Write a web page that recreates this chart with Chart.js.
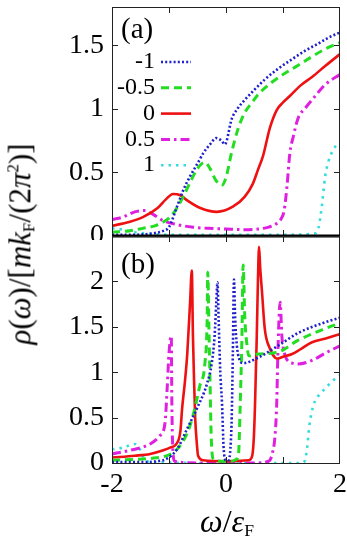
<!DOCTYPE html>
<html>
<head>
<meta charset="utf-8">
<script src="https://cdn.jsdelivr.net/npm/chart.js@4.4.0/dist/chart.umd.min.js"></script>
<style>
	body { margin: 0; background: #fff; width: 347px; height: 536px; overflow: hidden; position: relative; font-family: "Liberation Serif", serif; }
	#boxA { position: absolute; left: 0; top: 0; width: 347px; height: 240px; }
	#boxB { position: absolute; left: 0; top: 229px; width: 347px; height: 307px; }
	.ytitle { position: absolute; left: 21px; top: 244px; transform: translate(-50%, -50%) rotate(-90deg); white-space: nowrap; font-size: 31px; }
	.xtitle { position: absolute; left: 227px; top: 522px; transform: translate(-50%, -50%); white-space: nowrap; font-size: 32px; }
	sub, sup { font-size: 55%; }
	sub { vertical-align: -0.25em; }
	sup { vertical-align: 0.7em; }
</style>
</head>
<body>
<div id="boxA"><canvas id="panelA"></canvas></div>
<div id="boxB"><canvas id="panelB"></canvas></div>
<div class="ytitle"><i>ρ</i>(<i>ω</i>)/[<i>mk</i><sub>F</sub>/(2<i>π</i><sup>2</sup>)]</div>
<div class="xtitle"><i>ω</i>/<i>ε</i><sub>F</sub></div>
<script>
// legend labels (the parameter of each curve)
const seriesLabels = ["-1", "-0.5", "0", "0.5", "1"];
const xTickLabels = [-2, 0, 2];
const xTickMarks = [-1, 0, 1];

// panel (a)
const aBlueX = [-2, -1.6, -1.3, -1.1, -1.0, -0.86, -0.75, -0.63, -0.5, -0.4, -0.28, -0.17, -0.08, -0.02, 0.1, 0.2, 0.33, 0.5, 0.68, 0.9, 1.16, 1.4, 1.61, 1.8, 2];
const aBlueY = [0.01, 0.01, 0.02, 0.04, 0.07, 0.23, 0.36, 0.47, 0.57, 0.65, 0.72, 0.77, 0.75, 0.72, 0.92, 1.0, 1.07, 1.15, 1.23, 1.31, 1.39, 1.46, 1.51, 1.56, 1.6];
const aGreenX = [-2, -1.7, -1.46, -1.25, -1.1, -0.98, -0.89, -0.75, -0.63, -0.5, -0.37, -0.28, -0.18, -0.07, 0.0, 0.1, 0.21, 0.33, 0.46, 0.56, 0.81, 1.26, 1.74, 2];
const aGreenY = [0.03, 0.04, 0.06, 0.08, 0.11, 0.15, 0.2, 0.31, 0.42, 0.53, 0.58, 0.53, 0.44, 0.4, 0.46, 0.66, 0.84, 0.97, 1.05, 1.11, 1.21, 1.34, 1.47, 1.52];
const aRedX = [-2, -1.7, -1.45, -1.2, -1.05, -0.93, -0.8, -0.68, -0.45, -0.16, 0.12, 0.33, 0.47, 0.56, 0.65, 0.77, 0.89, 1.0, 1.12, 1.3, 1.51, 1.75, 2];
const aRedY = [0.08, 0.11, 0.15, 0.22, 0.29, 0.33, 0.32, 0.28, 0.22, 0.19, 0.23, 0.31, 0.41, 0.52, 0.63, 0.85, 0.99, 1.05, 1.1, 1.18, 1.25, 1.34, 1.43];
const aMagentaX = [-2, -1.8, -1.6, -1.42, -1.28, -1.1, -0.86, -0.6, -0.3, 0.0, 0.3, 0.56, 0.75, 0.86, 0.96, 1.02, 1.07, 1.12, 1.18, 1.26, 1.4, 1.51, 1.74, 2];
const aMagentaY = [0.13, 0.15, 0.19, 0.2, 0.17, 0.12, 0.09, 0.07, 0.06, 0.055, 0.05, 0.055, 0.07, 0.09, 0.13, 0.2, 0.39, 0.65, 0.78, 0.92, 1.01, 1.07, 1.19, 1.27];
const aCyanX = [-2, -1.8, -1.6, -1.4, -1.0, 0.0, 1.0, 1.55, 1.62, 1.68, 1.74, 1.8, 1.86, 1.93, 2];
const aCyanY = [0.06, 0.05, 0.03, 0.02, 0.01, 0.01, 0.01, 0.02, 0.06, 0.23, 0.47, 0.59, 0.66, 0.71, 0.74];

// panel (b)
const bBlueX = [-2, -1.5, -1.2, -1.03, -0.86, -0.68, -0.51, -0.33, -0.25, -0.2, -0.17, -0.15, -0.13, -0.1, -0.07, -0.04, 0.0, 0.04, 0.07, 0.1, 0.12, 0.14, 0.16, 0.19, 0.23, 0.3, 0.56, 0.91, 1.26, 1.74, 2];
const bBlueY = [0.01, 0.01, 0.02, 0.05, 0.15, 0.38, 0.6, 0.88, 1.1, 1.4, 1.77, 1.99, 1.6, 1.0, 0.66, 0.15, 0.03, 0.03, 0.1, 0.5, 1.2, 2.02, 1.6, 1.3, 1.15, 1.1, 1.16, 1.29, 1.43, 1.55, 1.6];
const bGreenX = [-2, -1.6, -1.33, -1.0, -0.86, -0.68, -0.58, -0.46, -0.37, -0.33, -0.32, -0.3, -0.28, -0.26, -0.22, -0.1, 0.0, 0.1, 0.18, 0.22, 0.25, 0.28, 0.3, 0.33, 0.37, 0.4, 0.56, 0.91, 1.26, 1.74, 2];
const bGreenY = [0.03, 0.04, 0.05, 0.09, 0.15, 0.33, 0.52, 0.85, 1.1, 1.6, 2.1, 1.5, 0.9, 0.3, 0.04, 0.02, 0.02, 0.02, 0.04, 0.1, 0.66, 1.4, 2.18, 1.6, 1.29, 1.18, 1.2, 1.22, 1.35, 1.48, 1.54];
const bRedX = [-2, -1.6, -1.33, -1.1, -0.98, -0.86, -0.8, -0.77, -0.72, -0.68, -0.63, -0.6, -0.58, -0.56, -0.54, -0.51, -0.49, -0.4, 0.0, 0.4, 0.46, 0.49, 0.51, 0.54, 0.56, 0.58, 0.6, 0.63, 0.68, 0.77, 0.86, 0.91, 1.0, 1.16, 1.3, 1.51, 1.75, 2];
const bRedY = [0.06, 0.08, 0.1, 0.14, 0.17, 0.22, 0.35, 0.6, 0.9, 1.2, 1.77, 2.12, 1.4, 0.9, 0.49, 0.2, 0.08, 0.03, 0.02, 0.03, 0.08, 0.3, 0.66, 1.4, 2.0, 2.38, 2.15, 1.9, 1.48, 1.26, 1.16, 1.15, 1.17, 1.2, 1.25, 1.33, 1.37, 1.42];
const bMagentaX = [-2, -1.68, -1.33, -1.16, -1.07, -1.03, -1.0, -0.96, -0.95, -0.93, -0.9, -0.5, 0.0, 0.5, 0.75, 0.81, 0.86, 0.89, 0.91, 0.95, 0.98, 1.04, 1.16, 1.26, 1.51, 1.74, 2];
const bMagentaY = [0.1, 0.14, 0.21, 0.3, 0.44, 0.85, 1.21, 1.4, 0.66, 0.11, 0.02, 0.0, 0.0, 0.0, 0.02, 0.1, 0.3, 0.66, 1.21, 1.77, 1.4, 1.18, 1.1, 1.09, 1.13, 1.21, 1.29];
const bCyanX = [-2, -1.8, -1.6, -1.51, -1.42, -1.3, 0.0, 1.2, 1.3, 1.38, 1.42, 1.46, 1.5, 1.56, 1.65, 1.8, 1.9, 2];
const bCyanY = [0.15, 0.17, 0.21, 0.15, 0.03, 0.01, 0.0, 0.0, 0.0, 0.02, 0.15, 0.4, 0.55, 0.68, 0.76, 0.86, 0.92, 0.97];

const styles = [
	{ color: "#1f1fcc", dash: [2, 2.2], width: 2.6 },
	{ color: "#22dd22", dash: [8, 5], width: 3 },
	{ color: "#ee1111", dash: [], width: 2.6 },
	{ color: "#e020e0", dash: [9, 4, 2.5, 4], width: 3 },
	{ color: "#33dddd", dash: [2.5, 5], width: 2.6 },
];

const serif = '"Liberation Serif", serif';

function points(xs, ys) {
	return xs.map((x, i) => ({ x: x, y: ys[i] }));
}

function makeDatasets(list) {
	return list.map((pair, i) => ({
		label: seriesLabels[i],
		data: points(pair[0], pair[1]),
		borderColor: styles[i].color,
		borderDash: styles[i].dash,
		borderWidth: styles[i].width,
		pointRadius: 0,
		fill: false,
		cubicInterpolationMode: "monotone",
	}));
}

//frame with inward ticks, panel tag and (optionally) legend
function framePlugin(tag, tagY, withLegend, thickBottom) {
	return {
		id: "frame" + tag,
		afterDraw: (chart) => {
			const c = chart.ctx;
			const a = chart.chartArea;
			const xs = chart.scales.x;
			const ys = chart.scales.y;
			c.save();
			c.setLineDash([]);
			c.strokeStyle = "#222";
			c.lineWidth = 1;
			c.strokeRect(a.left + 0.5, a.top + 0.5, a.right - a.left - 1, a.bottom - a.top);
			c.beginPath();
			xTickMarks.forEach((v) => {
				const px = Math.round(xs.getPixelForValue(v)) + 0.5;
				c.moveTo(px, a.top);
				c.lineTo(px, a.top + 6);
				c.moveTo(px, a.bottom);
				c.lineTo(px, a.bottom - 6);
			});
			ys.ticks.forEach((t) => {
				const py = Math.round(ys.getPixelForValue(t.value)) + 0.5;
				c.moveTo(a.left, py);
				c.lineTo(a.left + 6, py);
				c.moveTo(a.right, py);
				c.lineTo(a.right - 6, py);
			});
			c.stroke();
			if (thickBottom) {
				c.lineWidth = 3;
				c.strokeStyle = "#000";
				c.beginPath();
				c.moveTo(a.left, a.bottom);
				c.lineTo(a.right, a.bottom);
				c.stroke();
			}
			c.fillStyle = "#000";
			c.font = "29px " + serif;
			c.textAlign = "left";
			c.textBaseline = "middle";
			c.fillText(tag, 121, tagY);
			if (withLegend) {
				c.font = "24px " + serif;
				c.textAlign = "right";
				chart.data.datasets.forEach((ds, i) => {
					const y = 62 + i * 25.8;
					c.fillStyle = "#000";
					c.fillText(ds.label, 155, y);
					c.strokeStyle = ds.borderColor;
					c.lineWidth = ds.borderWidth;
					c.setLineDash(ds.borderDash);
					c.beginPath();
					c.moveTo(161, y);
					c.lineTo(191, y);
					c.stroke();
				});
			}
			c.restore();
		},
	};
}

function makePanel(id, datasets, yMax, showX, padBottom, plugin) {
	return new Chart(document.getElementById(id), {
		type: "line",
		data: { datasets: datasets },
		options: {
			responsive: true,
			maintainAspectRatio: false,
			animation: false,
			devicePixelRatio: 1,
			layout: { padding: { left: 0, right: 7, top: 7, bottom: padBottom } },
			plugins: { legend: { display: false }, tooltip: { enabled: false } },
			scales: {
				x: {
					type: "linear",
					min: -2,
					max: 2,
					display: showX,
					grid: { display: false, drawTicks: false },
					border: { display: false },
					afterBuildTicks: (s) => {
						s.ticks = xTickLabels.map((v) => ({ value: v }));
					},
					afterFit: (s) => {
						s.height = showX ? 73 : 0;
						s.paddingLeft = 0;
						s.paddingRight = 0;
					},
					ticks: {
						padding: 5,
						color: "#000",
						font: { family: serif, size: 28 },
						callback: (v) => String(v),
					},
				},
				y: {
					min: 0,
					max: yMax,
					grid: { display: false, drawTicks: false },
					border: { display: false },
					afterBuildTicks: (s) => {
						s.ticks = s.ticks.filter((t) => t.value <= 2.01);
					},
					afterFit: (s) => {
						s.width = 112;
						s.paddingTop = 0;
						s.paddingBottom = 0;
					},
					ticks: {
						stepSize: 0.5,
						includeBounds: false,
						padding: 8,
						color: "#000",
						font: { family: serif, size: 28 },
						callback: (v) => String(v),
					},
				},
			},
		},
		plugins: [plugin],
	});
}

function drawAll() {
	makePanel(
		"panelA",
		makeDatasets([
			[aBlueX, aBlueY],
			[aGreenX, aGreenY],
			[aRedX, aRedY],
			[aMagentaX, aMagentaY],
			[aCyanX, aCyanY],
		]),
		1.8,
		false,
		4,
		framePlugin("(a)", 30, true, true)
	);

	makePanel(
		"panelB",
		makeDatasets([
			[bBlueX, bBlueY],
			[bGreenX, bGreenY],
			[bRedX, bRedY],
			[bMagentaX, bMagentaY],
			[bCyanX, bCyanY],
		]),
		2.5,
		true,
		0,
		framePlugin("(b)", 36, false, false)
	);
}

document.fonts.load('28px "Liberation Serif"').then(drawAll, drawAll);
</script>
</body>
</html>
